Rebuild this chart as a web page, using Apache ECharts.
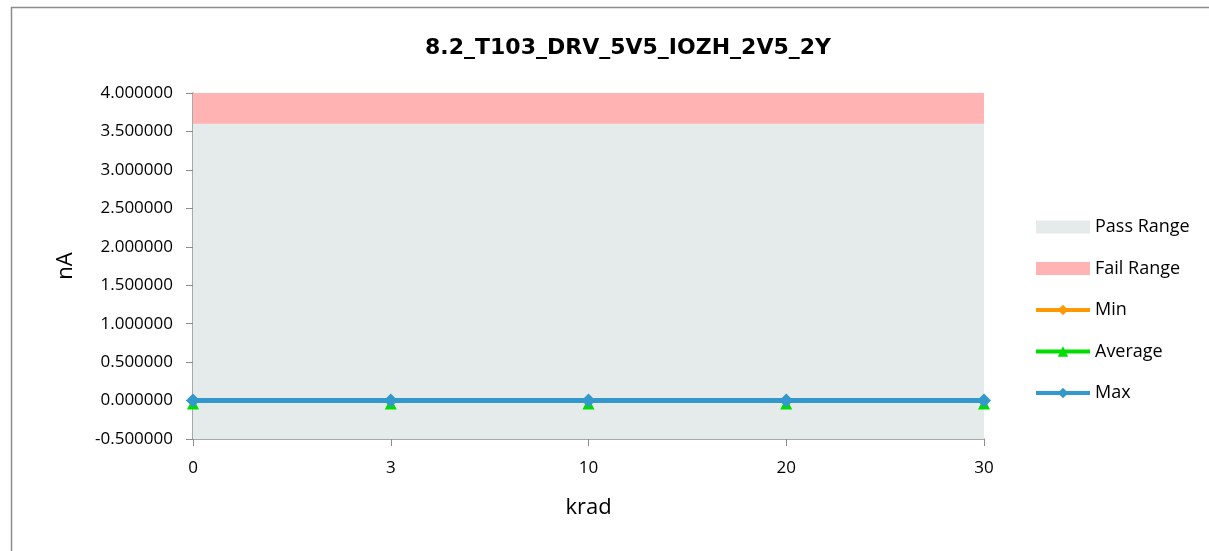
<!DOCTYPE html>
<html><head><meta charset="utf-8">
<script src="https://cdn.jsdelivr.net/npm/echarts@6/dist/echarts.min.js"></script>
<style>html,body{margin:0;padding:0;background:#fff}#c{width:1209px;height:551px}</style>
</head><body><div id="c"></div>
<script>
const categories = ['0', '3', '10', '20', '30'];
const passRange = [3.6, 3.6, 3.6, 3.6, 3.6];
const failRange = [4.0, 4.0, 4.0, 4.0, 4.0];
const minVals = [0.0, 0.0, 0.0, 0.0, 0.0];
const avgVals = [0.0, 0.0, 0.0, 0.0, 0.0];
const maxVals = [0.0, 0.0, 0.0, 0.0, 0.0];
const yTicks = { min: -0.5, max: 4.0, interval: 0.5 };

const FONT = '"Open Sans", "Liberation Sans", sans-serif';
const chart = echarts.init(document.getElementById('c'), null, { renderer: 'canvas' });
chart.setOption({
  backgroundColor: '#fff',
  animation: false,
  graphic: [{
    type: 'rect', shape: { x: 11.5, y: 7.5, width: 1400, height: 700 },
    style: { fill: 'none', stroke: '#8c8c8c', lineWidth: 1.5 }, z: -1, silent: true
  }],
  title: {
    text: '8.2_T103_DRV_5V5_IOZH_2V5_2Y', left: 623, top: 32, textAlign: 'center',
    textStyle: { fontFamily: '"DejaVu Sans", sans-serif', fontSize: 22, fontWeight: 'bold', color: '#000' }
  },
  grid: { left: 193, right: 225, top: 93, bottom: 112, containLabel: false },
  legend: {
    orient: 'vertical', left: 1029, top: 213, itemGap: 23.5, itemWidth: 54, itemHeight: 13,
    textStyle: { fontFamily: FONT, fontSize: 18, color: '#000' },
    data: [
      { name: 'Pass Range', icon: 'rect' },
      { name: 'Fail Range', icon: 'rect' },
      { name: 'Min', lineStyle: { width: 4 } },
      { name: 'Average', lineStyle: { width: 4 } },
      { name: 'Max', lineStyle: { width: 4 } }
    ]
  },
  xAxis: {
    type: 'category', data: categories, boundaryGap: false,
    name: 'krad', nameLocation: 'middle', nameGap: 58,
    nameTextStyle: { fontFamily: FONT, fontSize: 22, color: '#000' },
    axisLine: { onZero: false, lineStyle: { color: '#8c8c8c', width: 1.5 } },
    axisTick: { show: true, length: 7, alignWithLabel: true, lineStyle: { color: '#8c8c8c' } },
    axisLabel: { fontFamily: FONT, fontSize: 17, color: '#000', margin: 21 },
    splitLine: { show: false }
  },
  yAxis: {
    type: 'value', min: yTicks.min, max: yTicks.max, interval: yTicks.interval,
    name: 'nA', nameLocation: 'middle', nameGap: 116, nameRotate: 90,
    nameTextStyle: { fontFamily: FONT, fontSize: 22, color: '#000' },
    axisLine: { show: true, lineStyle: { color: '#8c8c8c', width: 1.5 } },
    axisTick: { show: true, length: 7, lineStyle: { color: '#8c8c8c' } },
    axisLabel: { fontFamily: FONT, fontSize: 17, color: '#000', margin: 20,
      formatter: v => v.toFixed(6) },
    splitLine: { show: false }
  },
  series: [
    { name: 'Fail Range', type: 'line', data: failRange, symbol: 'none', color: '#FFB3B3',
      lineStyle: { width: 0 }, areaStyle: { origin: 'start', color: '#FFB3B3', opacity: 1 }, z: 1 },
    { name: 'Pass Range', type: 'line', data: passRange, symbol: 'none', color: '#E5EBEB',
      lineStyle: { width: 0 }, areaStyle: { origin: 'start', color: '#E5EBEB', opacity: 1 }, z: 2 },
    { name: 'Min', type: 'line', data: minVals, color: '#FF9900', symbol: 'diamond', symbolSize: 12,
      lineStyle: { width: 5 }, z: 3 },
    { name: 'Average', type: 'line', data: avgVals, color: '#00DD00', symbol: 'triangle', symbolSize: 12,
      symbolOffset: [0, 3], lineStyle: { width: 5 }, z: 4 },
    { name: 'Max', type: 'line', data: maxVals, color: '#3399CC', symbol: 'diamond', symbolSize: 14,
      lineStyle: { width: 5 }, z: 5 }
  ]
});
</script></body></html>
